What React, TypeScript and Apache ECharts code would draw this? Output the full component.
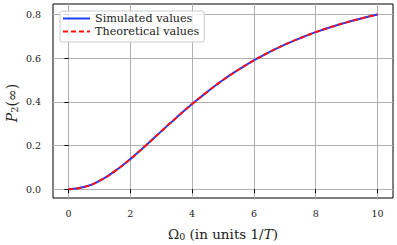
import React, { useEffect, useRef } from "react";
import * as echarts from "echarts";

const omega = [0, 0.5, 1, 1.5, 2, 2.5, 3, 3.5, 4, 4.5, 5, 5.5, 6, 6.5, 7, 7.5, 8, 8.5, 9, 9.5, 10];
const simulated = [0, 0.01, 0.038, 0.083, 0.138, 0.2, 0.265, 0.329, 0.39, 0.447, 0.5, 0.547, 0.59, 0.628, 0.662, 0.692, 0.719, 0.743, 0.764, 0.783, 0.8];
const theoretical = [0, 0.01, 0.038, 0.083, 0.138, 0.2, 0.265, 0.329, 0.39, 0.447, 0.5, 0.547, 0.59, 0.628, 0.662, 0.692, 0.719, 0.743, 0.764, 0.783, 0.8];
const xTicks = [0, 2, 4, 6, 8, 10];
const yTicks = [0, 0.2, 0.4, 0.6, 0.8];
const seriesNames = ["Simulated values", "Theoretical values"];

const FONT = "DejaVu Serif";

export default function App() {
  const ref = useRef<HTMLDivElement>(null);
  useEffect(() => {
    document.body.style.margin = "0";
    const chart = echarts.init(ref.current!, null, { renderer: "svg" });
    chart.setOption({
      animation: false,
      backgroundColor: "#ffffff",
      textStyle: { fontFamily: FONT },
      grid: {
        left: 53,
        right: 4,
        top: 4,
        bottom: 47,
        show: true,
        borderColor: "#000",
        borderWidth: 1,
        backgroundColor: "transparent",
      },
      legend: {
        left: 60,
        top: 11,
        orient: "vertical",
        itemWidth: 27,
        itemHeight: 12,
        itemGap: 2,
        padding: [2, 5, 5, 2],
        backgroundColor: "rgba(255,255,255,0.8)",
        borderColor: "#cccccc",
        borderWidth: 1,
        borderRadius: 2,
        itemStyle: { opacity: 0 },
        textStyle: { fontFamily: FONT, fontSize: 11.2, color: "#222" },
        data: seriesNames,
      },
      xAxis: {
        type: "value",
        min: -0.5,
        max: 10.5,
        axisLine: { show: false },
        axisTick: { show: true, length: 4, customValues: xTicks, lineStyle: { color: "#000" } },
        axisLabel: { customValues: xTicks, fontFamily: FONT, fontSize: 9.5, color: "#222", margin: 10 },
        splitLine: { show: true, lineStyle: { color: "#b0b0b0", width: 1 } },
      },
      yAxis: {
        type: "value",
        min: -0.04,
        max: 0.848,
        axisLine: { show: false },
        axisTick: { show: true, length: 4, customValues: yTicks, lineStyle: { color: "#000" } },
        axisLabel: {
          customValues: yTicks,
          fontFamily: FONT,
          fontSize: 9.5,
          color: "#222",
          margin: 12,
          formatter: (v: number) => v.toFixed(1),
        },
        splitLine: { show: true, lineStyle: { color: "#b0b0b0", width: 1 } },
      },
      graphic: [
        {
          type: "text",
          x: 223,
          y: 234,
          style: {
            text: "{a|Ω}{s|0}{a| (in units 1/}{i|T}{a|)}",
            align: "center",
            verticalAlign: "middle",
            rich: {
              a: { fontFamily: FONT, fontSize: 13.5, fill: "#222" },
              i: { fontFamily: FONT, fontSize: 13.5, fontStyle: "italic", fill: "#222" },
              s: { fontFamily: FONT, fontSize: 9.5, fill: "#222", verticalAlign: "bottom", padding: [5, 0, 0, 0] },
            },
          },
        },
        {
          type: "text",
          x: 12,
          y: 103,
          rotation: Math.PI / 2,
          style: {
            text: "{i|P}{s|2}{a|(∞)}",
            align: "center",
            verticalAlign: "middle",
            rich: {
              a: { fontFamily: FONT, fontSize: 14, fill: "#222" },
              i: { fontFamily: FONT, fontSize: 14, fontStyle: "italic", fill: "#222" },
              s: { fontFamily: FONT, fontSize: 10, fill: "#222", verticalAlign: "bottom", padding: [5, 0, 0, 0] },
            },
          },
        },
      ],
      series: [
        {
          name: seriesNames[0],
          type: "line",
          data: omega.map((x, i) => [x, simulated[i]]),
          symbol: "none",
          smooth: true,
          lineStyle: { color: "#1f3cff", width: 2 },
          itemStyle: { color: "#1f3cff" },
          z: 2,
        },
        {
          name: seriesNames[1],
          type: "line",
          data: omega.map((x, i) => [x, theoretical[i]]),
          symbol: "none",
          smooth: true,
          lineStyle: { color: "#ff1010", width: 2, type: [5, 3] },
          itemStyle: { color: "#ff1010" },
          z: 3,
        },
      ],
    });
    return () => chart.dispose();
  }, []);
  return <div ref={ref} style={{ position: "fixed", left: 0, top: 0, width: 397, height: 245 }} />;
}
